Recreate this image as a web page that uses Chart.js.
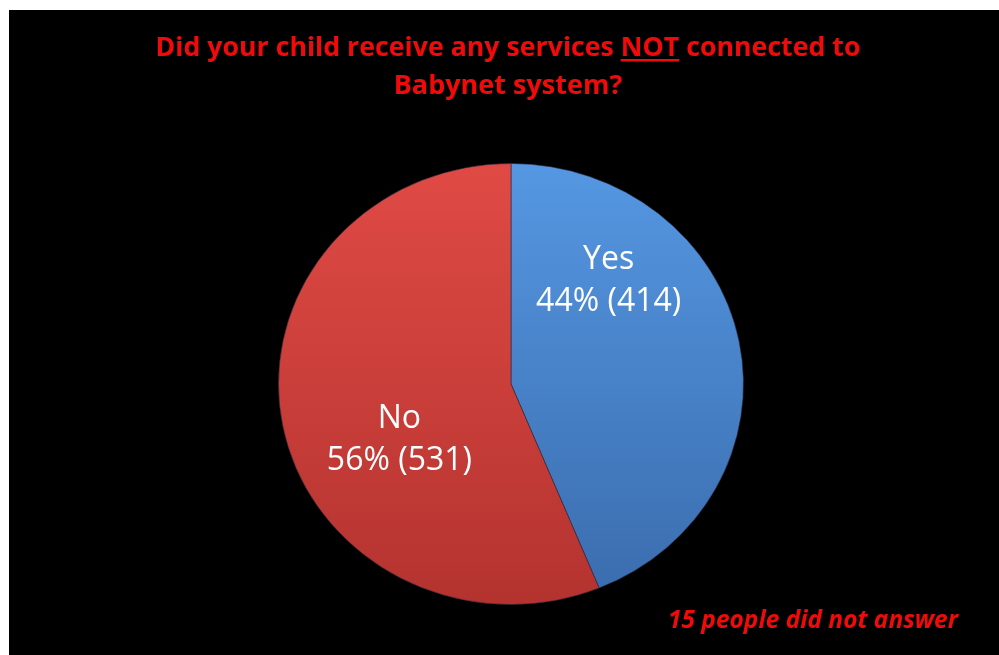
<!DOCTYPE html>
<html>
<head>
<meta charset="utf-8">
<script src="https://cdn.jsdelivr.net/npm/chart.js@4"></script>
<style>
    html, body { margin: 0; padding: 0; background: #fff; }
    #wrap { width: 999px; height: 655px; position: relative; }
</style>
</head>
<body>
<div id="wrap"><canvas id="grafico" width="999" height="655"></canvas></div>
<script>
// dados do gráfico
const categorias = ["Yes", "No"];
const valores = [414, 531];
const percentuais = [44, 56];
const tituloLinhas = ["Did your child receive any services NOT connected to", "Babynet system?"];
const rodape = "15 people did not answer";

// cores (topo -> base do gradiente)
const coresTopo = ["#5597e2", "#e04a45"];
const coresBase = ["#3a6cad", "#b4332f"];
// posição dos rótulos em fração do raio
const rotuloOffset = [[0.42, -0.47], [-0.48, 0.25]];

const fonteTexto = "'Open Sans', 'DejaVu Sans', sans-serif";
const escalaY = 221 / 233;

function gradiente(ctx, i) {
    const area = ctx.chart.chartArea;
    if (!area) return coresTopo[i];
    const g = ctx.chart.ctx.createLinearGradient(0, area.top, 0, area.bottom);
    g.addColorStop(0, coresTopo[i]);
    g.addColorStop(1, coresBase[i]);
    return g;
}

const fundoPreto = {
    id: "fundoPreto",
    beforeDraw(chart) {
        const c = chart.ctx;
        c.save();
        c.fillStyle = "#fff";
        c.fillRect(0, 0, chart.width, chart.height);
        c.fillStyle = "#000";
        c.fillRect(9, 10, chart.width - 9, chart.height - 10);
        c.restore();
    }
};

// achata um pouco a pizza na vertical, como no original
const achatar = {
    id: "achatar",
    beforeDatasetsDraw(chart) {
        const arco = chart.getDatasetMeta(0).data[0];
        const c = chart.ctx;
        c.save();
        c.translate(arco.x, arco.y);
        c.scale(1, escalaY);
        c.translate(-arco.x, -arco.y);
    },
    afterDatasetsDraw(chart) {
        chart.ctx.restore();
    }
};

const textos = {
    id: "textos",
    afterDraw(chart) {
        const c = chart.ctx;
        const meta = chart.getDatasetMeta(0);
        const arco = meta.data[0];
        const r = arco.outerRadius;
        c.save();

        // título
        c.fillStyle = "#f20a0a";
        c.font = "bold 27px " + fonteTexto;
        c.textAlign = "center";
        c.textBaseline = "alphabetic";
        const cx = 508;
        c.fillText(tituloLinhas[0], cx, 56, 705);
        c.fillText(tituloLinhas[1], cx, 94);

        // sublinhado em "NOT"
        const linha = tituloLinhas[0];
        const larg = Math.min(c.measureText(linha).width, 705);
        const fator = larg / c.measureText(linha).width;
        const idx = linha.indexOf("NOT");
        const x0 = cx - larg / 2 + c.measureText(linha.slice(0, idx)).width * fator;
        const wNot = c.measureText("NOT").width * fator;
        c.fillRect(x0, 59, wNot, 2.5);

        // rodapé
        c.font = "italic bold 24.5px " + fonteTexto;
        c.textAlign = "right";
        c.fillText(rodape, 958, 628, 290);

        // rótulos das fatias
        c.fillStyle = "#ffffff";
        c.font = "32px " + fonteTexto;
        c.textAlign = "center";
        c.textBaseline = "middle";
        meta.data.forEach((el, i) => {
            const x = el.x + rotuloOffset[i][0] * r;
            const y = el.y + rotuloOffset[i][1] * r * escalaY;
            c.fillText(categorias[i], x, y - 20);
            c.fillText(percentuais[i] + "% (" + valores[i] + ")", x, y + 22);
        });
        c.restore();
    }
};

const ctxGrafico = document.getElementById("grafico").getContext("2d");
new Chart(ctxGrafico, {
    type: "pie",
    data: {
        labels: categorias,
        datasets: [{
            data: valores,
            backgroundColor: ctx => gradiente(ctx, ctx.dataIndex),
            borderColor: "rgba(40,40,60,0.6)",
            borderWidth: 1
        }]
    },
    options: {
        responsive: false,
        animation: false,
        layout: { padding: { left: 278, right: 255, top: 151, bottom: 38 } },
        plugins: {
            legend: { display: false },
            tooltip: { enabled: false },
            title: { display: false }
        }
    },
    plugins: [fundoPreto, achatar, textos]
});
</script>
</body>
</html>
